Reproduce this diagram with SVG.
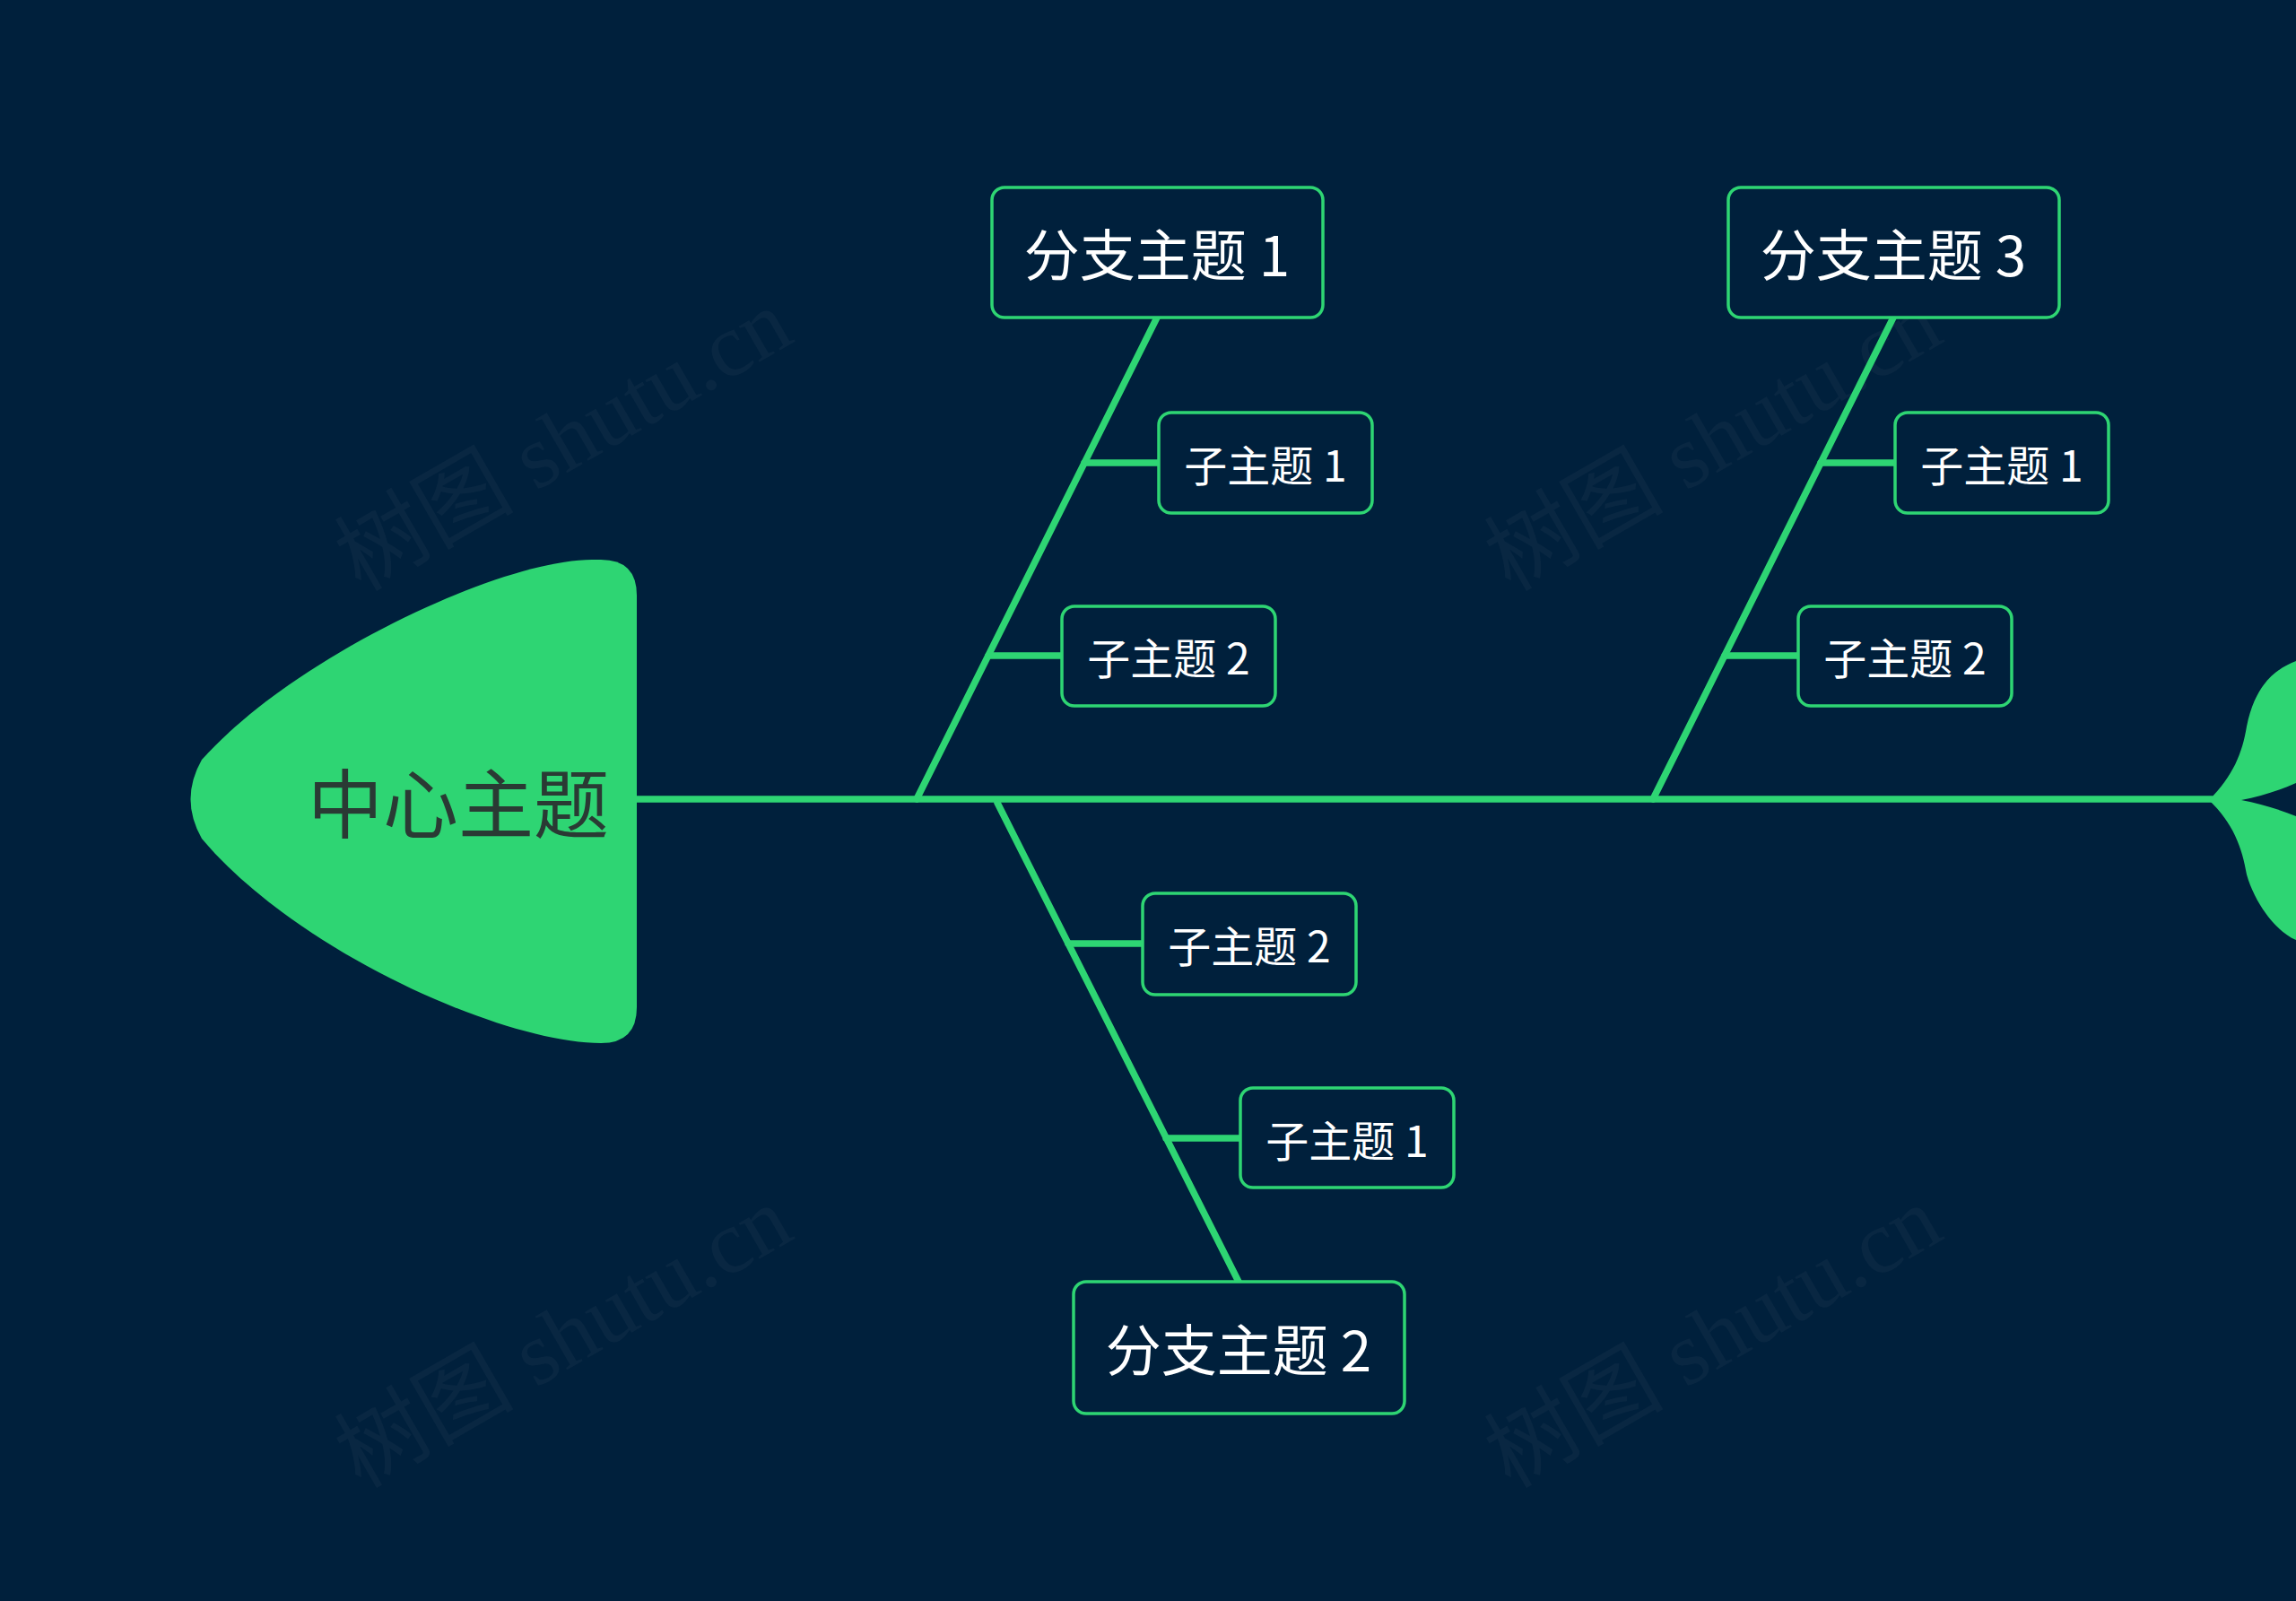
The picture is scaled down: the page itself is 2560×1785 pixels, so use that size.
<svg xmlns="http://www.w3.org/2000/svg" width="2560" height="1785" viewBox="0 0 2560 1785">
<style>
.ln{stroke:#2ed573;stroke-width:7.5;fill:none;stroke-linecap:round}
.bx{fill:#00203c;stroke:#2ed573;stroke-width:3.5}
.t1{font-family:"Noto Sans CJK SC","Liberation Sans",sans-serif;font-size:62px;fill:#ffffff;text-anchor:middle;dominant-baseline:central}
.t2{font-family:"Noto Sans CJK SC","Liberation Sans",sans-serif;font-size:48px;fill:#ffffff;text-anchor:middle;dominant-baseline:central}
.wm{font-family:"Liberation Serif","Noto Sans CJK SC",serif;font-size:100px;fill:#ffffff;fill-opacity:0.035;text-anchor:middle}
</style>
<rect width="2560" height="1785" fill="#00203c"/>
<g id="watermarks">
<text class="wm" transform="translate(645,520) rotate(-30)">树图 shutu.cn</text>
<text class="wm" transform="translate(1927,520) rotate(-30)">树图 shutu.cn</text>
<text class="wm" transform="translate(645,1520) rotate(-30)">树图 shutu.cn</text>
<text class="wm" transform="translate(1927,1520) rotate(-30)">树图 shutu.cn</text>
</g>
<g id="connectors">
<line class="ln" x1="710" y1="891" x2="2466" y2="891"/>
<line class="ln" x1="1290" y1="354" x2="1022" y2="891"/>
<line class="ln" x1="1209" y1="516" x2="1292" y2="516"/>
<line class="ln" x1="1102" y1="731" x2="1184" y2="731"/>
<line class="ln" x1="2111" y1="354" x2="1843" y2="891"/>
<line class="ln" x1="2030" y1="516" x2="2113" y2="516"/>
<line class="ln" x1="1923" y1="731" x2="2005" y2="731"/>
<line class="ln" x1="1112" y1="895" x2="1381" y2="1429"/>
<line class="ln" x1="1191" y1="1052" x2="1274" y2="1052"/>
<line class="ln" x1="1300" y1="1269" x2="1383" y2="1269"/>
</g>
<g id="tail">
<path fill="#2ed573" d="M2463,892 C2490,865 2500,840 2505,810 C2515,760 2540,745 2560,737 L2560,873 C2540,882 2520,888 2499,892 C2520,896 2540,902 2560,910 L2560,1048 C2540,1040 2515,1010 2505,975 C2500,945 2490,918 2463,892 Z"/>
</g>
<g id="center">
<path fill="#2ed573" d="M660,624 L670,624 Q710,624 710,664 L710,1123 Q710,1163 670,1163 C560,1163 330,1060 225,935 Q200,891 225,847 C330,730 560,624 660,624 Z"/>
<text x="511" y="891" font-family="Noto Sans CJK SC,Liberation Sans,sans-serif" font-size="84" fill="#2a3a34" text-anchor="middle" dominant-baseline="central">中心主题</text>
</g>
<g id="branch1">
<rect class="bx" x="1106" y="209" width="369" height="145" rx="14"/>
<text class="t1" x="1290" y="281">分支主题 1</text>
</g>
<g id="b1s1"><rect class="bx" x="1292" y="460" width="238" height="112" rx="14"/><text class="t2" x="1411" y="516">子主题 1</text></g>
<g id="b1s2"><rect class="bx" x="1184" y="676" width="238" height="111" rx="14"/><text class="t2" x="1303" y="731">子主题 2</text></g>
<g id="branch3">
<rect class="bx" x="1927" y="209" width="369" height="145" rx="14"/>
<text class="t1" x="2111" y="281">分支主题 3</text>
</g>
<g id="b3s1"><rect class="bx" x="2113" y="460" width="238" height="112" rx="14"/><text class="t2" x="2232" y="516">子主题 1</text></g>
<g id="b3s2"><rect class="bx" x="2005" y="676" width="238" height="111" rx="14"/><text class="t2" x="2124" y="731">子主题 2</text></g>
<g id="branch2">
<rect class="bx" x="1197" y="1429" width="369" height="147" rx="14"/>
<text class="t1" x="1381" y="1502">分支主题 2</text>
</g>
<g id="b2s2"><rect class="bx" x="1274" y="996" width="238" height="113" rx="14"/><text class="t2" x="1393" y="1052">子主题 2</text></g>
<g id="b2s1"><rect class="bx" x="1383" y="1213" width="238" height="111" rx="14"/><text class="t2" x="1502" y="1269">子主题 1</text></g>
</svg>
